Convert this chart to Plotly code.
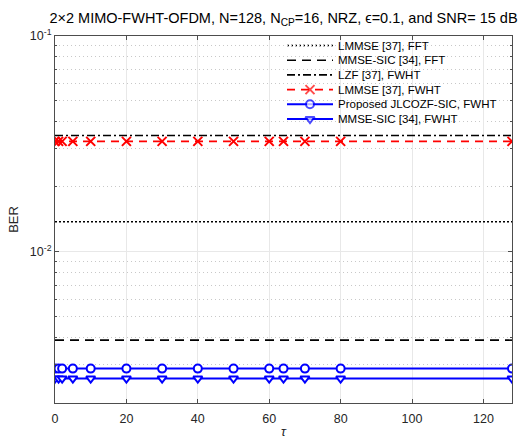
import plotly.graph_objects as go

# Delay offsets tau at which BER was evaluated
tau = [0, 1, 2, 5, 10, 20, 30, 40, 50, 60, 64, 70, 80, 128]

# BER per detector (flat over tau)
ber_lmmse_fft = [0.0138, 0.0138, 0.0138, 0.0138, 0.0138, 0.0138, 0.0138,
                 0.0138, 0.0138, 0.0138, 0.0138, 0.0138, 0.0138, 0.0138]
ber_mmsesic_fft = [0.0039, 0.0039, 0.0039, 0.0039, 0.0039, 0.0039, 0.0039,
                   0.0039, 0.0039, 0.0039, 0.0039, 0.0039, 0.0039, 0.0039]
ber_lzf_fwht = [0.0346, 0.0346, 0.0346, 0.0346, 0.0346, 0.0346, 0.0346,
                0.0346, 0.0346, 0.0346, 0.0346, 0.0346, 0.0346, 0.0346]
ber_lmmse_fwht = [0.0325, 0.0325, 0.0325, 0.0325, 0.0325, 0.0325, 0.0325,
                  0.0325, 0.0325, 0.0325, 0.0325, 0.0325, 0.0325, 0.0325]
ber_proposed = [0.00288, 0.00288, 0.00288, 0.00288, 0.00288, 0.00288, 0.00288,
                0.00288, 0.00288, 0.00288, 0.00288, 0.00288, 0.00288, 0.00288]
ber_mmsesic_fwht = [0.00259, 0.00259, 0.00259, 0.00259, 0.00259, 0.00259, 0.00259,
                    0.00259, 0.00259, 0.00259, 0.00259, 0.00259, 0.00259, 0.00259]

labels = ["LMMSE [37], FFT", "MMSE-SIC [34], FFT", "LZF [37], FWHT",
          "LMMSE [37], FWHT", "Proposed JLCOZF-SIC, FWHT", "MMSE-SIC [34], FWHT"]

y_ticks = [0.1, 0.01]
y_ticktext = ["10<sup>-1</sup>", "10<sup>-2</sup>"]
x_ticks = [0, 20, 40, 60, 80, 100, 120]

BLUE = "#0000ff"
RED = "#ff0000"
BLACK = "#000000"

styles = [
    dict(color=BLACK, dash="2px,2px", width=1.6, symbol=None),
    dict(color=BLACK, dash="9px,6px", width=1.6, symbol=None),
    dict(color=BLACK, dash="8px,3px,2px,3px", width=1.6, symbol=None),
    dict(color=RED, dash="8px,6px", width=1.6, symbol="x-thin", fill=RED, size=9),
    dict(color=BLUE, dash="solid", width=2, symbol="circle", fill="white", size=8),
    dict(color=BLUE, dash="solid", width=2, symbol="triangle-down", fill="white", size=8),
]
series = [ber_lmmse_fft, ber_mmsesic_fft, ber_lzf_fwht,
          ber_lmmse_fwht, ber_proposed, ber_mmsesic_fwht]


def marker_style(st):
    return dict(symbol=st["symbol"], size=st["size"], color=st["fill"],
                line=dict(color=st["color"], width=2))


fig = go.Figure()
for y, st in zip(series, styles):
    mode = "lines+markers" if st["symbol"] else "lines"
    fig.add_trace(go.Scatter(
        x=tau, y=y, mode=mode, showlegend=False,
        line=dict(color=st["color"], dash=st["dash"], width=st["width"]),
        marker=marker_style(st) if st["symbol"] else None,
    ))

# Plot-area geometry in pixels (for placing the hand-built legend)
W, H = 524, 439
L, R, T, B = 55, 12, 36, 36
pw, ph = W - L - R, H - T - B


def px_x(p):
    return (p - L) / pw


def px_y(p):
    return (H - B - p) / ph


shapes = []
annotations = []
# legend background: hides the grid, stays under the traces
shapes.append(dict(type="rect", xref="paper", yref="paper",
                   x0=px_x(283), x1=px_x(511), y0=px_y(128), y1=px_y(37),
                   fillcolor="white", line=dict(width=0), layer="between"))
row0, drow = 45.5, 14.7
mk_x, mk_y, mk_sym, mk_col, mk_fill, mk_size = [], [], [], [], [], []
for i, (lab, st) in enumerate(zip(labels, styles)):
    yy = px_y(row0 + i * drow)
    shapes.append(dict(type="line", xref="paper", yref="paper",
                       x0=px_x(287), x1=px_x(333), y0=yy, y1=yy, layer="between",
                       line=dict(color=st["color"], dash=st["dash"], width=st["width"])))
    annotations.append(dict(text=lab, xref="paper", yref="paper", x=px_x(336), y=yy,
                            xanchor="left", yanchor="middle", showarrow=False,
                            font=dict(size=11.5, color="#000000")))
    if st["symbol"]:
        mk_x.append(px_x(310))
        mk_y.append(yy)
        mk_sym.append(st["symbol"])
        mk_col.append(st["color"])
        mk_fill.append(st["fill"])
        mk_size.append(st["size"])

fig.add_trace(go.Scatter(
    x=mk_x, y=mk_y, mode="markers", showlegend=False, xaxis="x2", yaxis="y2",
    marker=dict(symbol=mk_sym, size=mk_size, color=mk_fill,
                line=dict(color=mk_col, width=2)),
    cliponaxis=False,
))

axis_col = "#4d4d4d"
fig.update_layout(
    width=W, height=H,
    margin=dict(l=L, r=R, t=T, b=B),
    paper_bgcolor="white", plot_bgcolor="white",
    font=dict(family="Liberation Sans, Arial, sans-serif", color="#262626", size=12.5),
    title=dict(text="2\u00d72 MIMO-FWHT-OFDM, N=128, N<sub>CP</sub>=16, NRZ, \u03f5=0.1, and SNR= 15 dB",
               x=0.5, xref="paper", y=1 - 18 / H, yref="container", yanchor="middle",
               font=dict(size=14.5, color="#000000")),
    shapes=shapes,
    annotations=annotations,
    xaxis=dict(range=[0, 128], tickvals=x_ticks, showline=True, mirror="ticks",
               linecolor=axis_col, linewidth=1, ticks="inside", ticklen=4,
               tickcolor=axis_col, showgrid=True, gridcolor="#e8e8e8", zeroline=False,
               ticklabelstandoff=4, automargin=False,
               title=dict(text="<i>\u03c4</i>", standoff=9, font=dict(size=13))),
    yaxis=dict(type="log", range=[-2.7, -1], tickvals=y_ticks, ticktext=y_ticktext,
               showline=True, mirror="ticks", linecolor=axis_col, linewidth=1,
               ticks="inside", ticklen=4, tickcolor=axis_col, automargin=False,
               showgrid=True, gridcolor="#e8e8e8", zeroline=False,
               minor=dict(ticks="inside", ticklen=2, tickcolor=axis_col,
                          showgrid=True, gridcolor="#c8c8c8", griddash="1px,3px",
                          dtick="D1"),
               title=dict(text="BER", standoff=8, font=dict(size=13))),
    xaxis2=dict(overlaying="x", range=[0, 1], visible=False),
    yaxis2=dict(overlaying="y", range=[0, 1], visible=False),
)

fig.write_html("out.html")
